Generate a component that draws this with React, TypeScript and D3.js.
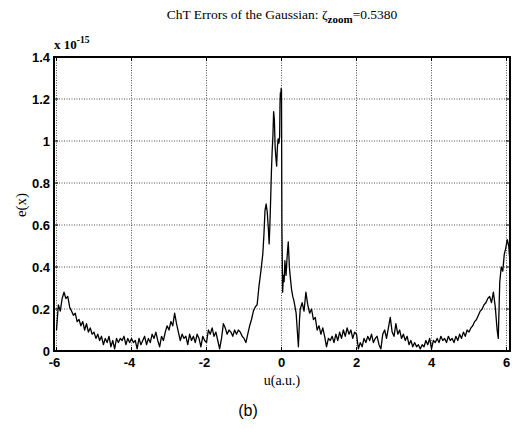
import React, { useEffect, useRef } from 'react';
import * as d3 from 'd3';

// sampled error curve e(u), in units of 1e-15
// left part: u from -6.00 to -0.55, step 0.05
const leftStart = -6;
const leftStep = 0.05;
const leftValues = [
  0.10, 0.22, 0.19, 0.25, 0.28, 0.25, 0.26, 0.21, 0.19, 0.17, 0.18, 0.14, 0.15, 0.12, 0.14, 0.10, 0.13, 0.09, 0.11, 0.08,
  0.09, 0.06, 0.08, 0.05, 0.07, 0.03, 0.06, 0.04, 0.07, 0.02, 0.05, 0.01, 0.06, 0.04, 0.06, 0.05, 0.07, 0.03, 0.06, 0.04,
  0.06, 0.04, 0.05, 0.01, 0.06, 0.03, 0.05, 0.07, 0.03, 0.06, 0.04, 0.08, 0.06, 0.09, 0.05, 0.02, 0.07, 0.05, 0.09, 0.12,
  0.10, 0.14, 0.12, 0.18, 0.13, 0.09, 0.05, 0.08, 0.06, 0.07, 0.03, 0.08, 0.05, 0.07, 0.04, 0.08, 0.06, 0.02, 0.07, 0.05,
  0.04, 0.10, 0.08, 0.11, 0.07, 0.09, 0.05, 0.01, 0.06, 0.13, 0.11, 0.08, 0.10, 0.09, 0.07, 0.10, 0.08, 0.10, 0.09, 0.07,
  0.06, 0.04, 0.08, 0.12, 0.15, 0.19, 0.21, 0.22, 0.31, 0.38
];

// central peak, irregular sampling
const peakU = [
  -0.50, -0.47, -0.44, -0.41, -0.38, -0.35, -0.33, -0.31, -0.29, -0.27, -0.25, -0.23, -0.21, -0.19, -0.17,
  -0.15, -0.13, -0.11, -0.09, -0.07, -0.05, -0.04, -0.03, -0.02, -0.01, 0.00, 0.01, 0.03, 0.05, 0.07,
  0.09, 0.12, 0.15, 0.18, 0.21, 0.24, 0.27, 0.30, 0.33, 0.36, 0.39, 0.42, 0.45, 0.48, 0.50
];
const peakE = [
  0.46, 0.55, 0.67, 0.70, 0.66, 0.58, 0.51, 0.60, 0.72, 0.85, 0.95, 1.02, 1.14, 1.10, 0.97,
  0.92, 0.88, 0.97, 1.01, 0.99, 1.02, 1.18, 1.23, 1.21, 1.25, 1.24, 0.60, 0.28, 0.36, 0.33,
  0.43, 0.36, 0.45, 0.52, 0.40, 0.34, 0.29, 0.26, 0.24, 0.21, 0.18, 0.10, 0.02, 0.15, 0.20
];

// right part: u from 0.55 to 5.75, step 0.05
const rightStart = 0.55;
const rightStep = 0.05;
const rightValues = [
  0.23, 0.19, 0.28, 0.22, 0.18, 0.20, 0.15, 0.16, 0.10, 0.12, 0.08, 0.11, 0.07, 0.02, 0.06, 0.05, 0.07, 0.04, 0.08, 0.05,
  0.09, 0.06, 0.10, 0.07, 0.11, 0.08, 0.10, 0.06, 0.09, 0.08, 0.01, 0.04, 0.02, 0.06, 0.04, 0.07, 0.05, 0.08, 0.04, 0.06,
  0.07, 0.03, 0.01, 0.08, 0.10, 0.06, 0.11, 0.16, 0.09, 0.07, 0.13, 0.08, 0.10, 0.06, 0.08, 0.05, 0.07, 0.03, 0.05, 0.02,
  0.04, 0.02, 0.03, 0.01, 0.03, 0.02, 0.05, 0.03, 0.06, 0.01, 0.05, 0.04, 0.06, 0.04, 0.07, 0.05, 0.06, 0.04, 0.07, 0.05,
  0.06, 0.04, 0.07, 0.05, 0.08, 0.06, 0.09, 0.07, 0.10, 0.09, 0.11, 0.12, 0.14, 0.15, 0.17, 0.19, 0.20, 0.22, 0.23, 0.25,
  0.26, 0.23, 0.28, 0.21, 0.10
];

// right edge, irregular sampling
const edgeU = [5.78, 5.82, 5.86, 5.90, 5.94, 5.98, 6.02, 6.06, 6.08];
const edgeE = [0.06, 0.33, 0.40, 0.38, 0.46, 0.49, 0.53, 0.50, 0.45];

const xTicks = [-6, -4, -2, 0, 2, 4, 6];
const yTicks = [0, 0.2, 0.4, 0.6, 0.8, 1, 1.2, 1.4];

const W = 512, H = 429;
const m = { left: 54, right: 2, top: 57, bottom: 78 };

export default function App() {
  const ref = useRef<SVGSVGElement>(null);

  useEffect(() => {
    const svg = d3.select(ref.current);
    svg.selectAll('*').remove();

    const points: [number, number][] = [
      ...leftValues.map((v, i) => [leftStart + i * leftStep, v] as [number, number]),
      ...peakU.map((u, i) => [u, peakE[i]] as [number, number]),
      ...rightValues.map((v, i) => [rightStart + i * rightStep, v] as [number, number]),
      ...edgeU.map((u, i) => [u, edgeE[i]] as [number, number])
    ];

    const x = d3.scaleLinear().domain([-6.067, 6.093]).range([m.left, W - m.right]);
    const y = d3.scaleLinear().domain([0, 1.4]).range([H - m.bottom, m.top]);

    const serif = '"Liberation Serif", "Times New Roman", serif';
    const sans = '"Liberation Sans", Arial, sans-serif';

    // grid
    const grid = svg.append('g')
      .attr('stroke', '#222')
      .attr('stroke-width', 0.8)
      .attr('stroke-dasharray', '1,1.5');
    grid.selectAll('line.v')
      .data(xTicks)
      .enter()
      .append('line')
      .attr('x1', d => x(d)).attr('x2', d => x(d))
      .attr('y1', y(0)).attr('y2', y(1.4));
    grid.selectAll('line.h')
      .data(yTicks)
      .enter()
      .append('line')
      .attr('x1', x.range()[0]).attr('x2', x.range()[1])
      .attr('y1', d => y(d)).attr('y2', d => y(d));

    // curve
    const line = d3.line<[number, number]>()
      .x(d => x(d[0]))
      .y(d => y(d[1]));
    svg.append('path')
      .datum(points)
      .attr('d', line)
      .attr('fill', 'none')
      .attr('stroke', '#000')
      .attr('stroke-width', 1.3)
      .attr('stroke-linejoin', 'round');

    // box
    svg.append('rect')
      .attr('x', x.range()[0])
      .attr('y', y(1.4))
      .attr('width', x.range()[1] - x.range()[0])
      .attr('height', y(0) - y(1.4))
      .attr('fill', 'none')
      .attr('stroke', '#000')
      .attr('stroke-width', 2);

    // inward ticks
    const ticks = svg.append('g').attr('stroke', '#000').attr('stroke-width', 1);
    xTicks.forEach(t => {
      ticks.append('line').attr('x1', x(t)).attr('x2', x(t)).attr('y1', y(0)).attr('y2', y(0) - 4);
      ticks.append('line').attr('x1', x(t)).attr('x2', x(t)).attr('y1', y(1.4)).attr('y2', y(1.4) + 4);
    });
    yTicks.forEach(t => {
      ticks.append('line').attr('x1', x.range()[0]).attr('x2', x.range()[0] + 4).attr('y1', y(t)).attr('y2', y(t));
      ticks.append('line').attr('x1', x.range()[1]).attr('x2', x.range()[1] - 4).attr('y1', y(t)).attr('y2', y(t));
    });

    // tick labels
    svg.append('g')
      .selectAll('text')
      .data(yTicks)
      .enter()
      .append('text')
      .attr('x', x.range()[0] - 4)
      .attr('y', d => y(d) + 5)
      .attr('text-anchor', 'end')
      .attr('font-family', sans)
      .attr('font-weight', 'bold')
      .attr('font-size', 13)
      .text(d => String(d));

    svg.append('g')
      .selectAll('text')
      .data(xTicks)
      .enter()
      .append('text')
      .attr('x', d => x(d) - (d < 0 ? 2 : 0))
      .attr('y', y(0) + 16)
      .attr('text-anchor', 'middle')
      .attr('font-family', sans)
      .attr('font-weight', 'bold')
      .attr('font-size', 13)
      .text(d => String(d));

    // title
    const title = svg.append('text')
      .attr('x', 282)
      .attr('y', 19)
      .attr('text-anchor', 'middle')
      .attr('font-family', serif)
      .attr('font-size', 13.5);
    title.append('tspan').text('ChT Errors of the Gaussian: ζ');
    title.append('tspan').attr('dy', 4).attr('font-size', 11).attr('font-weight', 'bold').text('zoom');
    title.append('tspan').attr('dy', -4).text('=0.5380');

    // exponent
    const expo = svg.append('text')
      .attr('x', 54)
      .attr('y', 49)
      .attr('font-family', serif)
      .attr('font-weight', 'bold')
      .attr('font-size', 13);
    expo.append('tspan').text('x 10');
    expo.append('tspan').attr('dy', -6).attr('font-size', 9.5).text('-15');

    // axis labels
    svg.append('text')
      .attr('transform', 'translate(26,205) rotate(-90)')
      .attr('text-anchor', 'middle')
      .attr('font-family', serif)
      .attr('font-size', 15)
      .text('e(x)');

    svg.append('text')
      .attr('x', 282)
      .attr('y', 385)
      .attr('text-anchor', 'middle')
      .attr('font-family', serif)
      .attr('font-size', 14)
      .text('u(a.u.)');

    svg.append('text')
      .attr('x', 248)
      .attr('y', 416)
      .attr('text-anchor', 'middle')
      .attr('font-family', sans)
      .attr('font-size', 16)
      .text('(b)');
  }, []);

  return (
    <svg ref={ref} width={W} height={H}
         style={{ position: 'absolute', left: 0, top: 0, background: '#fff' }} />
  );
}
